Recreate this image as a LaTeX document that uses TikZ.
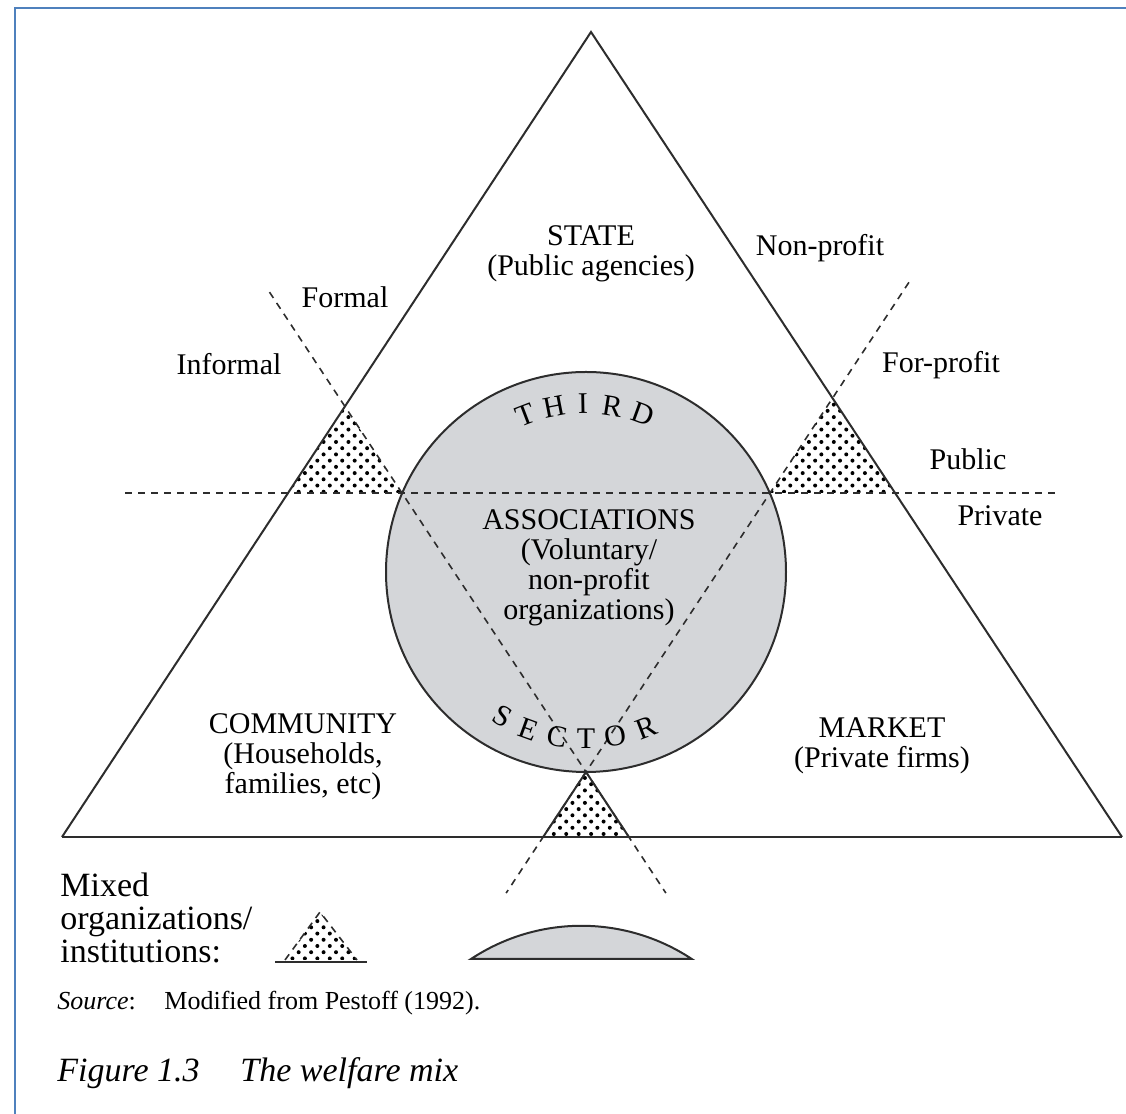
\documentclass[tikz,border=0pt]{standalone}
\usepackage{fontspec}
\setmainfont{Liberation Serif}
\usetikzlibrary{calc,patterns.meta}
\definecolor{frameblue}{RGB}{79,129,189}
\definecolor{sectorgray}{RGB}{212,214,217}
\definecolor{inkgray}{RGB}{45,45,45}
\tikzset{
  edgeline/.style={inkgray,line width=1pt},
  dividerline/.style={inkgray,line width=0.8pt,dash pattern=on 3.5pt off 3pt},
  mixedfill/.style={pattern={Dots[angle=45,distance=4.4pt,radius=1pt]}},
  welfaretext/.style={anchor=center,align=center,inner sep=0pt,
    font=\fontsize{15}{15}\selectfont},
}
\begin{document}
\begin{tikzpicture}[x=0.5pt,y=0.5pt]
  \useasboundingbox (0,0) rectangle (1126,1114);
  \draw[frameblue,line width=1.2pt] (14.8,0) -- (14.8,1106.2) -- (1126,1106.2);

  % big triangle and inner triangle
  \coordinate (top) at (591,1082);
  \coordinate (bl) at (62,277);
  \coordinate (br) at (1122,277);
  \coordinate (il) at (402,621);
  \coordinate (ir) at (770,621);
  \coordinate (ib) at (586,342);
  \coordinate (ctr) at (586,542);
  \coordinate (pl) at (125,621);
  \coordinate (pr) at (1055,621);
  \coordinate (mixl) at (intersection of bl--top and il--ib);
  \coordinate (mixr) at (intersection of br--top and ir--ib);
  \coordinate (edgel) at (intersection of bl--top and pl--pr);
  \coordinate (edger) at (intersection of br--top and pl--pr);
  \coordinate (basel) at (intersection of bl--br and il--ib);
  \coordinate (baser) at (intersection of bl--br and ir--ib);

  \fill[sectorgray] (ctr) circle (200);
  \draw[edgeline] (ctr) circle (200);

  \fill[mixedfill] (edgel) -- (mixl) -- (il) -- cycle;
  \fill[mixedfill] (ir) -- (mixr) -- (edger) -- cycle;
  \fill[mixedfill] (basel) -- (ib) -- (baser) -- cycle;

  \draw[dividerline] (pl) -- (pr);
  \draw[dividerline] ($(il)!-0.72!(ib)$) -- ($(il)!1.434!(ib)$);
  \draw[dividerline] ($(ir)!-0.755!(ib)$) -- ($(ir)!1.434!(ib)$);
  \draw[edgeline] (basel) -- (ib) -- (baser);

  \draw[edgeline] (bl) -- (top) -- (br);
  \draw[inkgray,line width=1.2pt] (bl) -- (br);

  % labels
  \node[welfaretext] (state) at (591,860) {STATE\\(Public agencies)};
  \node[welfaretext] (nonprofit) at (820,866) {Non-profit};
  \node[welfaretext] (formal) at (345,817) {Formal};
  \node[welfaretext] (informal) at (229,750) {Informal};
  \node[welfaretext] (forprofit) at (941,749) {For-profit};
  \node[welfaretext] (public) at (968,655) {Public};
  \node[welfaretext] (private) at (1000,598) {Private};
  \node[welfaretext] (assoc) at (589,546)
    {ASSOCIATIONS\\(Voluntary/\\non-profit\\organizations)};
  \node[welfaretext] (community) at (303,357)
    {COMMUNITY\\(Households,\\families, etc)};
  \node[welfaretext] (market) at (882,368) {MARKET\\(Private firms)};

  \foreach \ang/\ltr in {111/T,101/H,91/I,81/R,70/D}
    \node[welfaretext,rotate=\ang-90] (third\ltr) at ($(ctr)+(\ang:168)$) {\ltr};
  \foreach \ang/\ltr in {240/S,250/E,260/C,270/T,280/O,291/R}
    \node[welfaretext,rotate=\ang-270] (sector\ltr) at ($(ctr)+(\ang:167)$) {\ltr};

  % key
  \node[anchor=west,align=left,inner sep=0pt,font=\fontsize{17}{16.3}\selectfont]
    (key) at (60,196) {Mixed\\organizations/\\institutions:};
  \fill[mixedfill] (285,154) -- (320,202) -- (357,154) -- cycle;
  \draw[dividerline] (285,154) -- (320,202) -- (357,154);
  \draw[edgeline] (275,152) -- (367,152);
  \filldraw[fill=sectorgray,draw=inkgray,line width=1pt]
    (471,155) arc[start angle=123.5,end angle=56.5,radius=200] -- cycle;

  \node[anchor=west,inner sep=0pt,font=\fontsize{13}{15}\selectfont]
    (source) at (57,111) {\textit{Source}:\hspace{1.1em}Modified from Pestoff (1992).};
  \node[anchor=west,inner sep=0pt,font=\fontsize{17}{20}\selectfont\itshape]
    (caption) at (57,41) {Figure 1.3\hspace{1.2em}The welfare mix};
\end{tikzpicture}
\end{document}
